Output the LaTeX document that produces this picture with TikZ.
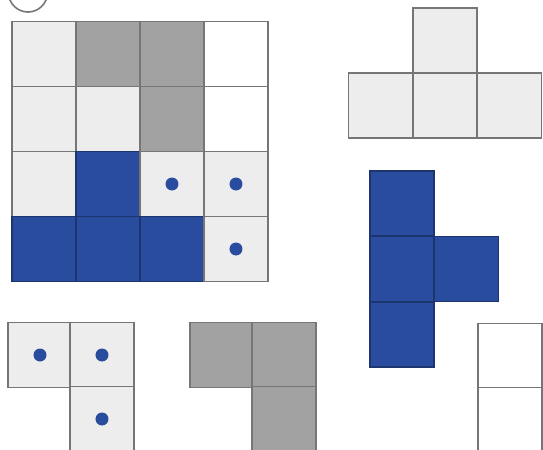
\documentclass[tikz,border=0pt]{standalone}
\usepackage{tikz}

\definecolor{lightcell}{HTML}{EDEDED}
\definecolor{darkcell}{HTML}{A2A2A2}
\definecolor{bluecell}{HTML}{2A4C9F}
\definecolor{edgegray}{HTML}{767676}

\begin{document}
\begin{tikzpicture}[
    x=0.5pt, y=-0.5pt,
    cell/.style={
        rectangle,
        draw=edgegray,
        line width=0.7pt,
        inner sep=0pt,
        minimum width=32pt,
        minimum height=32.5pt
    },
    light cell/.style={cell, fill=lightcell},
    dark cell/.style={cell, fill=darkcell},
    blue cell/.style={cell, fill=bluecell, draw=bluecell!70!black},
    white cell/.style={cell, fill=white},
    dot/.style={fill=bluecell}
]

\useasboundingbox (0,0) rectangle (543,450);
\clip (0,0) rectangle (543,450);

% Número del ejercicio (recortado arriba)
\draw[edgegray, line width=0.8pt] (28,-7.5) circle (19.5);

% Tablero 4x4
\node[light cell] (g11) at (44,54) {};
\node[dark cell]  (g12) at (108,54) {};
\node[dark cell]  (g13) at (172,54) {};
\node[white cell] (g14) at (236,54) {};

\node[light cell] (g21) at (44,119) {};
\node[light cell] (g22) at (108,119) {};
\node[dark cell]  (g23) at (172,119) {};
\node[white cell] (g24) at (236,119) {};

\node[light cell] (g31) at (44,184) {};
\node[blue cell]  (g32) at (108,184) {};
\node[light cell] (g33) at (172,184) {};
\node[light cell] (g34) at (236,184) {};

\node[blue cell]  (g41) at (44,249) {};
\node[blue cell]  (g42) at (108,249) {};
\node[blue cell]  (g43) at (172,249) {};
\node[light cell] (g44) at (236,249) {};

\fill[dot] (g33.center) circle (6.5);
\fill[dot] (g34.center) circle (6.5);
\fill[dot] (g44.center) circle (6.5);

% Pieza T gris claro
\node[light cell] (ta) at (445,40.5) {};
\node[light cell] (tb) at (380.5,105.5) {};
\node[light cell] (tc) at (445,105.5) {};
\node[light cell] (td) at (509.5,105.5) {};

% Pieza T azul
\node[blue cell] (ba) at (402,203.5) {};
\node[blue cell] (bb) at (402,269) {};
\node[blue cell] (bc) at (402,334.5) {};
\node[blue cell] (bd) at (466.5,269) {};

% Pieza blanca
\node[white cell] (wa) at (510,356) {};
\node[white cell] (wb) at (510,420) {};

% Pieza con puntos
\node[light cell] (pa) at (40,355) {};
\node[light cell] (pb) at (102,355) {};
\node[light cell] (pc) at (102,419) {};
\fill[dot] (pa.center) circle (6.5);
\fill[dot] (pb.center) circle (6.5);
\fill[dot] (pc.center) circle (6.5);

% Pieza gris oscuro
\node[dark cell] (da) at (222,355) {};
\node[dark cell] (db) at (284,355) {};
\node[dark cell] (dc) at (284,419) {};

\end{tikzpicture}
\end{document}
